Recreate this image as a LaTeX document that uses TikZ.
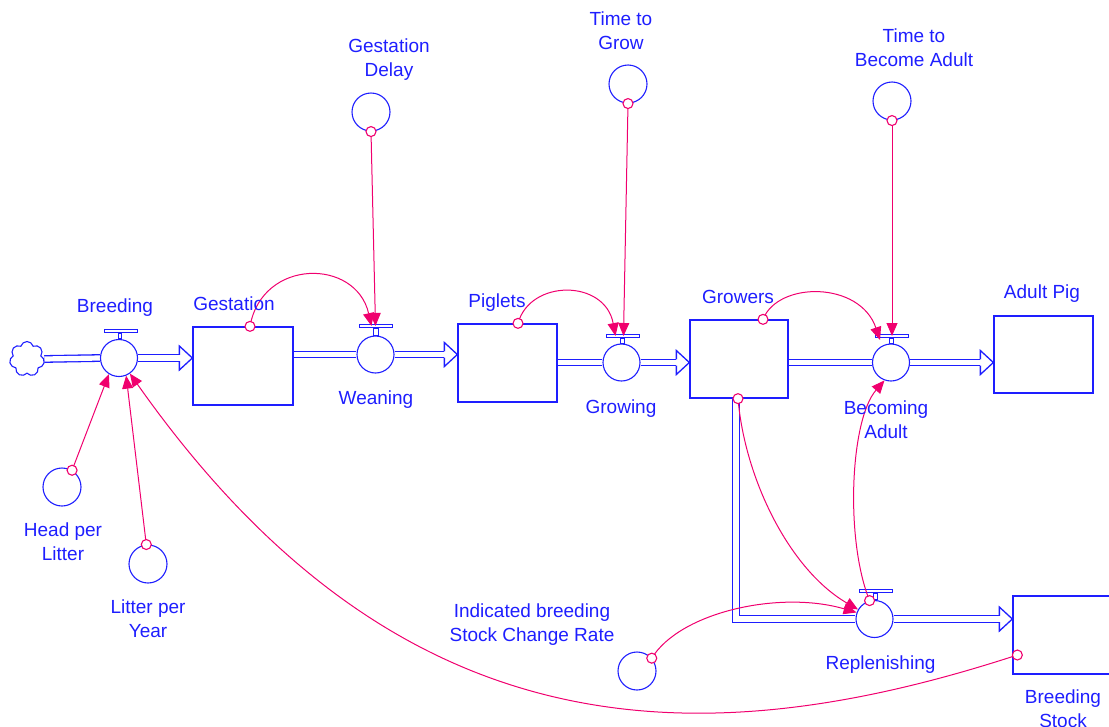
\documentclass[tikz,border=0pt]{standalone}
\usepackage{fontspec}
\setmainfont{Liberation Sans}
\usetikzlibrary{arrows.meta,shapes.symbols,calc,backgrounds}
\definecolor{blu}{RGB}{30,30,255}
\definecolor{pnk}{RGB}{240,0,110}
\newcommand\fltip[2]{%
  \draw[tipline] ($(#2.west|-#1)+(-13,-3.2)$) -- ++(0,-8.8) -- (#2.west|-#1) -- ++(-13,12) -- ++(0,-8.8);}
\newcommand\handle[2]{%
  \draw[blu, line width=1pt, fill=white] ($(#2.south)+(-2.5,0)$) rectangle ($(#1.north)+(2.5,0)$);}
\begin{document}
\begin{tikzpicture}[x=1pt,y=-1pt,
 lbl/.style={text=blu, font=\fontsize{19}{24.5}\selectfont, anchor=base, align=center, inner sep=0},
 stock/.style={draw=blu, line width=1.3pt, minimum width=100pt, minimum height=78pt, inner sep=0},
 valve/.style={circle, draw=blu, line width=1.1pt, fill=white, minimum size=37pt, inner sep=0},
 conv/.style={circle, draw=blu, line width=1.1pt, minimum size=38pt, inner sep=0},
 bar/.style={draw=blu, line width=1pt, fill=white, minimum width=33pt, minimum height=3.5pt, inner sep=0},
 pipe/.style={draw=blu, line width=1.3pt, double=white, double distance=5.2pt, line join=miter},
 tipline/.style={draw=blu, line width=1.3pt, line join=miter},
 conn/.style={draw=pnk, line width=1pt, -{Triangle[length=13pt,width=11pt]}},
 dot/.style={circle, draw=pnk, line width=1.1pt, fill=white, minimum size=10pt, inner sep=0}
]
\useasboundingbox (0,0) rectangle (1109,726);

% stocks
\node[stock] (gest) at (243,366) {};
\node[stock, minimum width=99pt] (pig) at (507.5,363) {};
\node[stock, minimum width=98pt] (growers) at (739,359) {};
\node[stock, minimum width=99pt, minimum height=77pt] (adult) at (1043.5,354.5) {};
\node[stock] (bstock) at (1063,635) {};

% source cloud
\node[cloud, cloud puffs=7, draw=blu, line width=1.1pt, fill=white, minimum width=35pt, minimum height=35pt, aspect=1, inner sep=0] (src) at (27,359) {};

% valves
\node[valve] (breedV) at (119,358) {};
\node[valve] (weanV) at (375.5,354.5) {};
\node[valve] (growV) at (621.5,362.5) {};
\node[valve] (adultV) at (891,362.5) {};
\node[valve] (replV) at (874.5,619) {};

% valve handles
\node[bar] (breedH) at (120.5,331) {};
\node[bar] (weanH) at (375.5,326) {};
\node[bar] (growH) at (622.5,336) {};
\node[bar] (adultH) at (892,336) {};
\node[bar] (replH) at (875.5,591) {};
\handle{breedV}{breedH}
\handle{weanV}{weanH}
\handle{growV}{growH}
\handle{adultV}{adultH}
\handle{replV}{replH}

% converters
\node[conv] (gdelay) at (371,112) {};
\node[conv] (tgrow) at (628,84) {};
\node[conv] (tba) at (892,101) {};
\node[conv] (hpl) at (62,487) {};
\node[conv] (lpy) at (148,564) {};
\node[conv] (ind) at (637,671) {};

% pipes
\begin{pgfonlayer}{background}
\draw[pipe] (src.east) -- (breedV.west);
\draw[pipe] (breedV.east) -- ($(gest.west|-breedV)+(-13,0)$);
\draw[pipe] (gest.east|-weanV) -- (weanV.west);
\draw[pipe] (weanV.east) -- ($(pig.west|-weanV)+(-13,0)$);
\draw[pipe] (pig.east|-growV) -- (growV.west);
\draw[pipe] (growV.east) -- ($(growers.west|-growV)+(-13,0)$);
\draw[pipe] (growers.east|-adultV) -- (adultV.west);
\draw[pipe] (adultV.east) -- ($(adult.west|-adultV)+(-13,0)$);
\draw[pipe] ($(growers.south)+(-3,0)$) |- (replV.west);
\draw[pipe] (replV.east) -- ($(bstock.west|-replV)+(-13,0)$);
\end{pgfonlayer}
\fltip{breedV}{gest}
\fltip{weanV}{pig}
\fltip{growV}{growers}
\fltip{adultV}{adult}
\fltip{replV}{bstock}

% connectors
\draw[conn] (gdelay.south) -- (weanH.center) node[dot, pos=0] {};
\draw[conn] ($(gest.north)+(7,0)$) .. controls (262,258) and (356,258) .. ($(weanH.center)+(-4,0)$) node[dot, pos=0] {};
\draw[conn] (tgrow.south) -- ($(growH.center)+(1,0)$) node[dot, pos=0] {};
\draw[conn] ($(pig.north)+(10.5,0)$) .. controls (530,279) and (605,279) .. ($(growH.center)+(-7,0)$) node[dot, pos=0] {};
\draw[conn] (tba.south) -- (adultH.center) node[dot, pos=0] {};
\draw[conn] ($(growers.north)+(24,0)$) .. controls (778,281) and (860,281) .. ($(adultH.center)+(-12,4)$) node[dot, pos=0] {};
\draw[conn] (hpl.59) -- (breedV.-122) node[dot, pos=0] {};
\draw[conn] (lpy.95) -- (breedV.-68) node[dot, pos=0] {};
\draw[conn] ($(bstock.west)+(5,20)$) .. controls (693,761) and (395,750) .. (breedV.-55) node[dot, pos=0] {};
\draw[conn] ($(growers.south)+(-1,0)$) .. controls (745,480) and (790,570) .. (replV.150) node[dot, pos=0] {};
\draw[conn] (replV.105) .. controls (845,540) and (850,420) .. (adultV.-110) node[dot, pos=0] {};
\draw[conn] (ind.41) .. controls (680,612) and (780,590) .. (replV.160) node[dot, pos=0] {};

% labels (base anchor = baseline of last line)
\node[lbl] (breedL) at (115,312) {Breeding};
\node[lbl] (gestL) at (234,310) {Gestation};
\node[lbl] (weanL) at (376,404) {Weaning};
\node[lbl] (pigL) at (497,307) {Piglets};
\node[lbl] (growersL) at (738,303) {Growers};
\node[lbl] (growL) at (621,413) {Growing};
\node[lbl] (adultVL) at (886,438.5) {Becoming\\Adult};
\node[lbl] (adultL) at (1042,298) {Adult Pig};
\node[lbl] (replL) at (880.5,669) {Replenishing};
\node[lbl] (bstockL) at (1063,727.5) {Breeding\\Stock};
\node[lbl] (indL) at (532,641.5) {Indicated breeding\\Stock Change Rate};
\node[lbl] (lpyL) at (148,637.5) {Litter per\\Year};
\node[lbl] (hplL) at (63,560.5) {Head per\\Litter};
\node[lbl] (gdL) at (389,76.5) {Gestation\\Delay};
\node[lbl] (tgL) at (621,49.5) {Time to\\Grow};
\node[lbl] (tbaL) at (914,66.5) {Time to\\Become Adult};
\end{tikzpicture}
\end{document}
